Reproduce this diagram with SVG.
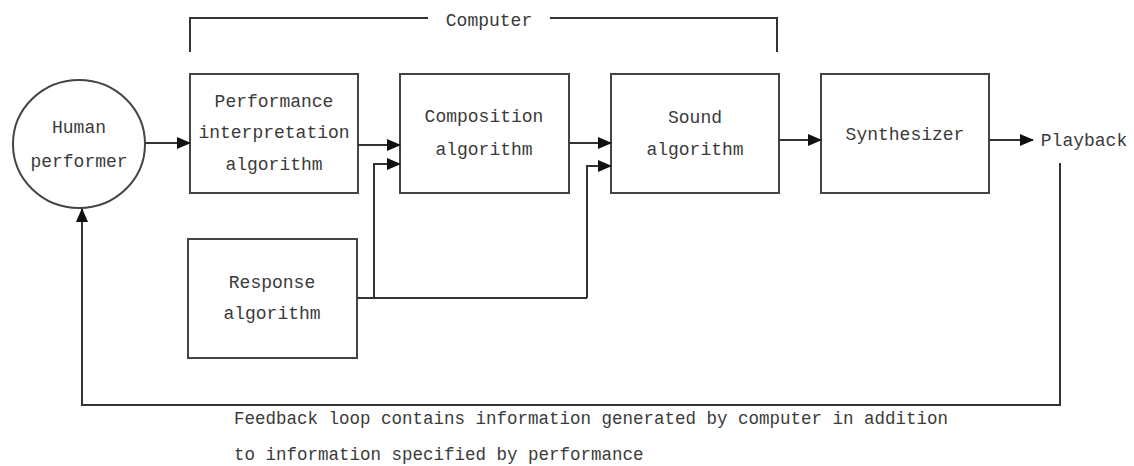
<svg xmlns="http://www.w3.org/2000/svg" width="1134" height="466" viewBox="0 0 1134 466">
  <style>
    .box { fill: #ffffff; stroke: #444444; stroke-width: 2; }
    .lbl { font-family: "Liberation Mono", "DejaVu Sans Mono", monospace; font-size: 18px; fill: #3a3a3a; text-anchor: middle; dominant-baseline: central; }
    .note { font-family: "Liberation Mono", "DejaVu Sans Mono", monospace; font-size: 17.5px; fill: #3a3a3a; dominant-baseline: central; }
    .wire { fill: none; stroke: #333333; stroke-width: 2; }
    .arr { marker-end: url(#ah); }
  </style>
  <defs>
    <marker id="ah" markerUnits="userSpaceOnUse" markerWidth="14" markerHeight="12" refX="13" refY="6" orient="auto">
      <path d="M0,0 L14,6 L0,12 Z" fill="#111111"/>
    </marker>
  </defs>
  <rect width="1134" height="466" fill="#ffffff"/>

  <g id="computer-bracket">
    <path class="wire" d="M190,52 L190,18 L428,18 M550,18 L777,18 L777,52"/>
    <text class="lbl" x="489" y="21">Computer</text>
  </g>

  <g id="human">
    <ellipse class="box" cx="79" cy="144" rx="66" ry="64"/>
    <text class="lbl" x="79" y="128">Human</text>
    <text class="lbl" x="79" y="162">performer</text>
  </g>

  <g id="performance">
    <rect class="box" x="190" y="74" width="168" height="119"/>
    <text class="lbl" x="274" y="102">Performance</text>
    <text class="lbl" x="274" y="133">interpretation</text>
    <text class="lbl" x="274" y="165">algorithm</text>
  </g>

  <g id="composition">
    <rect class="box" x="400" y="74" width="169" height="119"/>
    <text class="lbl" x="484" y="117">Composition</text>
    <text class="lbl" x="484" y="150">algorithm</text>
  </g>

  <g id="sound">
    <rect class="box" x="611" y="74" width="168" height="119"/>
    <text class="lbl" x="695" y="118">Sound</text>
    <text class="lbl" x="695" y="150">algorithm</text>
  </g>

  <g id="synthesizer">
    <rect class="box" x="821" y="74" width="168" height="119"/>
    <text class="lbl" x="905" y="135">Synthesizer</text>
  </g>

  <g id="response">
    <rect class="box" x="188" y="239" width="169" height="119"/>
    <text class="lbl" x="272" y="283">Response</text>
    <text class="lbl" x="272" y="314">algorithm</text>
  </g>

  <g id="playback">
    <text class="lbl" x="1084" y="141">Playback</text>
  </g>

  <g id="connectors">
    <line class="wire arr" x1="145" y1="143" x2="190" y2="143"/>
    <line class="wire arr" x1="358" y1="145" x2="400" y2="145"/>
    <line class="wire arr" x1="569" y1="143" x2="611" y2="143"/>
    <line class="wire arr" x1="779" y1="140" x2="821" y2="140"/>
    <line class="wire arr" x1="989" y1="140" x2="1033" y2="140"/>
    <path class="wire" d="M357,298 L587,298"/>
    <path class="wire arr" d="M374,298 L374,164 L400,164"/>
    <path class="wire arr" d="M587,298 L587,166 L611,166"/>
    <path class="wire arr" d="M1060,163 L1060,405 L82,405 L82,209"/>
  </g>

  <g id="feedback-note">
    <text class="note" x="234" y="419">Feedback loop contains information generated by computer in addition</text>
    <text class="note" x="234" y="455">to information specified by performance</text>
  </g>
</svg>
